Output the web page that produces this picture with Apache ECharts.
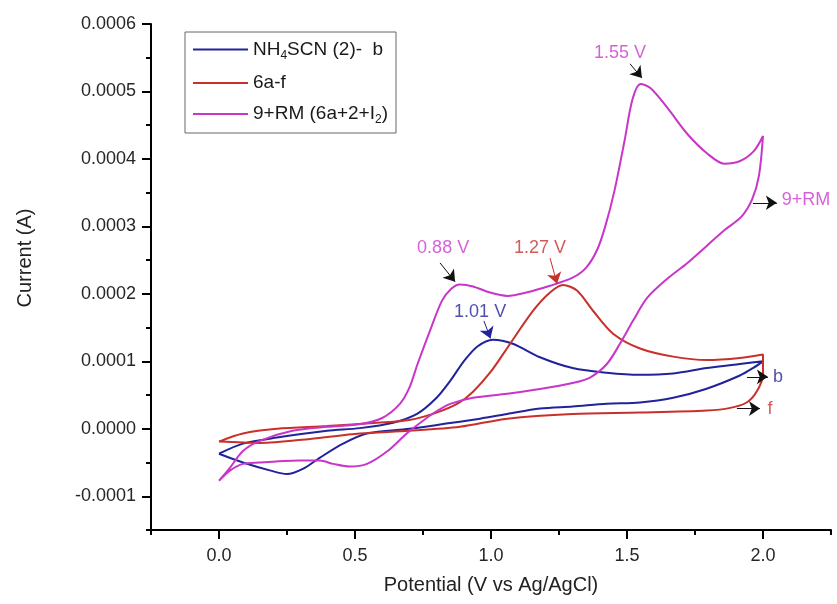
<!DOCTYPE html>
<html>
<head>
<meta charset="utf-8">
<script src="https://cdn.jsdelivr.net/npm/echarts@6/dist/echarts.min.js"></script>
<style>html,body{margin:0;padding:0;background:#fff;}#c{width:837px;height:604px;}</style>
</head>
<body>
<div id="c"></div>
<script>
// ---- data (Potential V, Current A) ----
const seriesNames = ['NH4SCN (2)-  b', '6a-f', '9+RM (6a+2+I2)'];
const blueData = [
  [0,-0.37e-4],[0.088,-0.22e-4],[0.213,-0.13e-4],[0.397,-0.03e-4],[0.518,0.01e-4],[0.64,0.09e-4],[0.728,0.22e-4],[0.80,0.46e-4],[0.85,0.71e-4],[0.90,1.0e-4],[0.95,1.22e-4],[1.007,1.32e-4],[1.08,1.26e-4],[1.18,1.06e-4],[1.30,0.90e-4],[1.426,0.83e-4],[1.548,0.80e-4],[1.67,0.82e-4],[1.794,0.90e-4],[1.915,0.96e-4],[2.0,1.0e-4],
  [1.963,0.90e-4],[1.915,0.79e-4],[1.79,0.59e-4],[1.67,0.46e-4],[1.548,0.39e-4],[1.426,0.37e-4],[1.30,0.33e-4],[1.18,0.30e-4],[1.06,0.22e-4],[0.96,0.15e-4],[0.824,0.07e-4],[0.70,0.0],[0.544,-0.07e-4],[0.456,-0.22e-4],[0.37,-0.43e-4],[0.31,-0.59e-4],[0.25,-0.67e-4],[0.19,-0.62e-4],[0.088,-0.50e-4],[0,-0.37e-4]
];
const redData = [
  [0,-0.19e-4],[0.088,-0.07e-4],[0.213,0.0],[0.397,0.04e-4],[0.58,0.09e-4],[0.70,0.13e-4],[0.80,0.24e-4],[0.88,0.38e-4],[0.934,0.55e-4],[1.0,0.85e-4],[1.06,1.20e-4],[1.155,1.75e-4],[1.217,2.02e-4],[1.265,2.13e-4],[1.316,2.05e-4],[1.375,1.75e-4],[1.449,1.41e-4],[1.548,1.19e-4],[1.67,1.07e-4],[1.794,1.02e-4],[1.915,1.05e-4],[2.0,1.10e-4],
  [2.0,0.81e-4],[1.978,0.56e-4],[1.94,0.39e-4],[1.88,0.31e-4],[1.794,0.27e-4],[1.548,0.24e-4],[1.30,0.22e-4],[1.06,0.15e-4],[0.886,0.03e-4],[0.70,-0.03e-4],[0.518,-0.07e-4],[0.335,-0.15e-4],[0.15,-0.21e-4],[0,-0.19e-4]
];
const magentaData = [
  [0.00,-0.77e-4],[0.04,-0.58e-4],[0.088,-0.33e-4],[0.15,-0.18e-4],[0.27,-0.03e-4],[0.40,0.03e-4],[0.52,0.07e-4],[0.60,0.16e-4],[0.665,0.37e-4],[0.70,0.61e-4],[0.73,0.96e-4],[0.78,1.50e-4],[0.82,1.90e-4],[0.855,2.08e-4],[0.886,2.14e-4],[0.934,2.11e-4],[0.996,2.02e-4],[1.06,1.97e-4],[1.13,2.02e-4],[1.217,2.12e-4],[1.30,2.24e-4],[1.35,2.39e-4],[1.39,2.65e-4],[1.42,3.0e-4],[1.454,3.53e-4],[1.491,4.27e-4],[1.52,4.88e-4],[1.55,5.11e-4],[1.586,5.05e-4],[1.648,4.76e-4],[1.722,4.37e-4],[1.795,4.08e-4],[1.857,3.93e-4],[1.916,3.97e-4],[1.967,4.12e-4],[2.0,4.34e-4],
  [1.985,3.75e-4],[1.96,3.40e-4],[1.92,3.14e-4],[1.86,2.95e-4],[1.79,2.70e-4],[1.72,2.45e-4],[1.647,2.22e-4],[1.574,1.94e-4],[1.522,1.60e-4],[1.474,1.26e-4],[1.426,0.96e-4],[1.364,0.76e-4],[1.30,0.68e-4],[1.18,0.59e-4],[1.06,0.52e-4],[0.934,0.46e-4],[0.85,0.37e-4],[0.80,0.26e-4],[0.75,0.12e-4],[0.69,-0.07e-4],[0.62,-0.33e-4],[0.544,-0.52e-4],[0.48,-0.56e-4],[0.42,-0.52e-4],[0.37,-0.47e-4],[0.30,-0.47e-4],[0.22,-0.48e-4],[0.15,-0.50e-4],[0.088,-0.52e-4],[0.04,-0.62e-4],[0.00,-0.77e-4]
];
const xMajor = [0, 0.5, 1.0, 1.5, 2.0];
const xMinor = [-0.25, 0.25, 0.75, 1.25, 1.75, 2.25];
const yMajor = [-0.0001, 0, 0.0001, 0.0002, 0.0003, 0.0004, 0.0005, 0.0006];
const yMinor = [-0.00015, -0.00005, 0.00005, 0.00015, 0.00025, 0.00035, 0.00045, 0.00055];
// annotations
const annoTexts = ['1.55 V', '0.88 V', '1.27 V', '1.01 V', '9+RM', 'b', 'f'];
const annoPos = [[1.474,5.57e-4],[0.824,2.68e-4],[1.18,2.68e-4],[0.96,1.73e-4],[2.158,3.39e-4],[2.055,0.76e-4],[2.026,0.30e-4]];
const annoColorKey = ['m','m','r','b','m','b','r'];
const arrowFrom = [[1.511,5.41e-4],[0.8125,2.46e-4],[1.217,2.53e-4],[0.974,1.60e-4],[1.963,3.35e-4],[1.941,0.77e-4],[1.904,0.30e-4]];
const arrowTo   = [[1.555,5.20e-4],[0.868,2.18e-4],[1.243,2.15e-4],[0.998,1.34e-4],[2.051,3.35e-4],[2.018,0.77e-4],[1.989,0.30e-4]];
const arrowColorKey = ['k','k','r','b','k','k','k'];

const COL = {b:'#22229a', r:'#c8302c', m:'#c935c9', k:'#111'};
const TXT = {b:'#23239c', r:'#c93030', m:'#cc3acc'};
const FONT = '"Liberation Sans", Arial, sans-serif';

const chart = echarts.init(document.getElementById('c'), null, {renderer:'canvas'});

const legendRich = {
  [seriesNames[0]]: '{t|NH}{s|4}{t|SCN (2)-  b}',
  [seriesNames[1]]: '{t|6a-f}',
  [seriesNames[2]]: '{t|9+RM (6a+2+I}{s|2}{t|)}'
};

function lineSeries(name, data, color) {
  return {
    name, type:'line', data, showSymbol:false, symbol:'none', smooth:0.3,
    lineStyle:{color, width:2}, itemStyle:{color}, z:3, animation:false
  };
}

const option = {
  animation:false,
  backgroundColor:'#fff',
  textStyle:{fontFamily:FONT},
  grid:{left:151, right:6, top:24, bottom:74, containLabel:false},
  legend:{
    data:seriesNames, orient:'vertical', left:185, top:32,
    icon:'rect', itemWidth:55, itemHeight:2, itemGap:12,
    borderColor:'#666', borderWidth:1, padding:[8,8,7,8],
    formatter: n => legendRich[n],
    textStyle:{fontFamily:FONT, rich:{
      t:{fontSize:19, color:'#1a1a1a', fontFamily:FONT},
      s:{fontSize:12, color:'#1a1a1a', fontFamily:FONT, padding:[12,0,0,0]}
    }}
  },
  xAxis:[{
    type:'value', min:-0.25, max:2.25, position:'bottom',
    name:'Potential (V vs Ag/AgCl)', nameLocation:'middle', nameGap:45,
    nameTextStyle:{fontSize:20, color:'#222', fontFamily:FONT},
    axisLine:{onZero:false, lineStyle:{color:'#000', width:2}},
    axisTick:{show:true, inside:false, length:9, customValues:xMajor, lineStyle:{color:'#000', width:2}},
    axisLabel:{customValues:xMajor, formatter:v=>v.toFixed(1), fontSize:18, color:'#262626', margin:17, fontFamily:FONT},
    splitLine:{show:false}
  },{
    type:'value', min:-0.25, max:2.25, position:'bottom',
    axisLine:{show:false, onZero:false},
    axisTick:{show:true, length:5, customValues:xMinor, lineStyle:{color:'#000', width:2}},
    axisLabel:{show:false}, splitLine:{show:false}
  }],
  yAxis:[{
    type:'value', min:-0.00015, max:0.0006, position:'left',
    axisLine:{onZero:false, lineStyle:{color:'#000', width:2}},
    axisTick:{show:true, length:9, customValues:yMajor, lineStyle:{color:'#000', width:2}},
    axisLabel:{customValues:yMajor, formatter:v=>(Math.abs(v)<1e-12?0:v).toFixed(4), fontSize:18, color:'#262626', margin:15, fontFamily:FONT},
    splitLine:{show:false}
  },{
    type:'value', min:-0.00015, max:0.0006, position:'left',
    axisLine:{show:false, onZero:false},
    axisTick:{show:true, length:5, customValues:yMinor, lineStyle:{color:'#000', width:2}},
    axisLabel:{show:false}, splitLine:{show:false}
  }],
  graphic:[{
    type:'text', x:25, y:258, rotation:Math.PI/2,
    style:{text:'Current (A)', fontSize:20, fill:'#222', fontFamily:FONT, textAlign:'center', textVerticalAlign:'middle'}
  }],
  series:[
    lineSeries(seriesNames[0], blueData, COL.b),
    lineSeries(seriesNames[1], redData, COL.r),
    lineSeries(seriesNames[2], magentaData, COL.m),
    {
      name:'annotations', type:'scatter', symbolSize:0, z:5, silent:true,
      data: annoPos.map((p,i)=>({value:p, label:{show:true, position:'inside', formatter:annoTexts[i], color:TXT[annoColorKey[i]], fontSize:18, fontFamily:FONT}})),
      markLine:{
        silent:true, symbol:['none','arrow'], symbolSize:11, label:{show:false}, animation:false,
        data: arrowFrom.map((f,i)=>[
          {coord:f, lineStyle:{color:COL[arrowColorKey[i]], width:1, type:'solid'}, itemStyle:{color:COL[arrowColorKey[i]]}},
          {coord:arrowTo[i]}
        ])
      }
    }
  ]
};
chart.setOption(option);
</script>
</body>
</html>
